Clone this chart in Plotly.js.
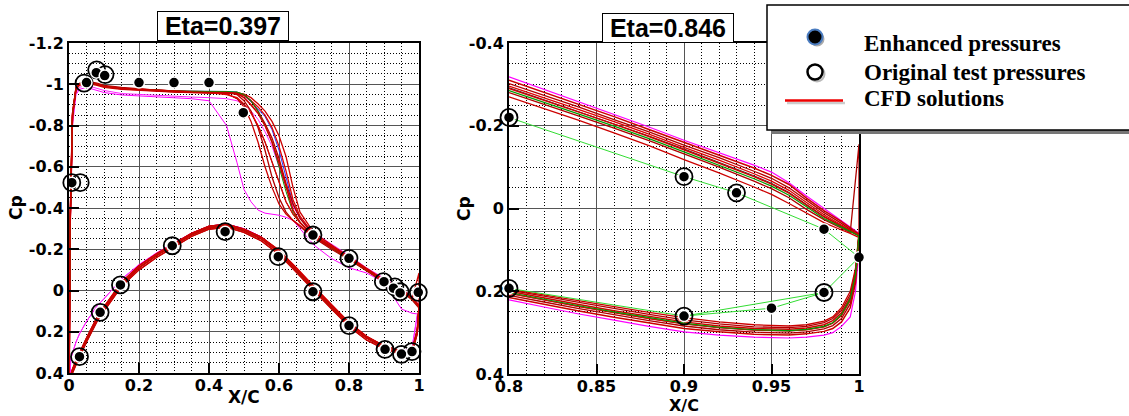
<!DOCTYPE html>
<html><head><meta charset="utf-8">
<script src="https://cdn.plot.ly/plotly-3.0.1.min.js"></script>
<style>html,body{margin:0;padding:0;background:#fff}#chart{width:1129px;height:416px}</style>
</head><body><div id="chart"></div>
<script>
// ---------- Eta = 0.397 (left) ----------
const xU = [0,0.003,0.01,0.02,0.03,0.05,0.08,0.1,0.15,0.2,0.25,0.3,0.35,0.4,0.45,0.48,0.5,0.52,0.54,0.56,0.58,0.6,0.62,0.64,0.66,0.7,0.75,0.8,0.85,0.9,0.95,0.98,1.0];
const uR1 = [0.6,-0.3,-0.85,-0.98,-1.0,-1.01,-1.0,-0.99,-0.98,-0.975,-0.97,-0.965,-0.962,-0.96,-0.96,-0.955,-0.935,-0.9,-0.86,-0.8,-0.72,-0.62,-0.5,-0.39,-0.33,-0.26,-0.21,-0.155,-0.1,-0.045,0.0,0.04,0.08];
const uR2 = [0.6,-0.32,-0.86,-0.985,-1.005,-1.015,-1.005,-0.995,-0.985,-0.978,-0.972,-0.968,-0.965,-0.963,-0.962,-0.95,-0.92,-0.87,-0.79,-0.68,-0.55,-0.45,-0.38,-0.34,-0.31,-0.255,-0.2,-0.15,-0.095,-0.04,0.005,0.045,0.085];
const uR3 = [0.6,-0.28,-0.84,-0.975,-0.995,-1.005,-0.995,-0.985,-0.975,-0.97,-0.965,-0.962,-0.96,-0.958,-0.957,-0.955,-0.945,-0.92,-0.89,-0.85,-0.79,-0.7,-0.58,-0.44,-0.36,-0.27,-0.215,-0.16,-0.105,-0.05,-0.005,0.035,0.075];
const uR4 = [0.6,-0.31,-0.86,-0.98,-1.0,-1.01,-1.0,-0.99,-0.98,-0.974,-0.969,-0.965,-0.962,-0.96,-0.955,-0.93,-0.89,-0.82,-0.72,-0.6,-0.5,-0.42,-0.37,-0.34,-0.315,-0.26,-0.205,-0.152,-0.098,-0.043,0.002,0.042,-0.085];
const uR5 = [0.6,-0.29,-0.85,-0.978,-0.998,-1.008,-0.998,-0.988,-0.978,-0.972,-0.967,-0.963,-0.961,-0.959,-0.958,-0.96,-0.95,-0.92,-0.87,-0.81,-0.74,-0.64,-0.52,-0.42,-0.35,-0.265,-0.212,-0.158,-0.102,-0.048,-0.003,0.038,0.078];
const uR6 = [0.6,-0.3,-0.85,-0.98,-1.0,-1.01,-1.0,-0.99,-0.98,-0.975,-0.97,-0.966,-0.963,-0.961,-0.96,-0.958,-0.952,-0.935,-0.905,-0.87,-0.82,-0.75,-0.65,-0.5,-0.38,-0.28,-0.22,-0.163,-0.108,-0.052,-0.008,0.032,0.072];
const uR7 = [0.6,-0.3,-0.85,-0.98,-1.0,-1.01,-1.0,-0.99,-0.98,-0.975,-0.97,-0.966,-0.963,-0.96,-0.95,-0.935,-0.905,-0.86,-0.8,-0.72,-0.62,-0.52,-0.43,-0.37,-0.33,-0.265,-0.21,-0.155,-0.1,-0.045,0.0,0.04,0.08];
const uG  = [0.6,-0.3,-0.85,-0.98,-1.0,-1.01,-1.0,-0.99,-0.98,-0.975,-0.97,-0.967,-0.966,-0.966,-0.965,-0.962,-0.95,-0.92,-0.87,-0.8,-0.72,-0.6,-0.48,-0.38,-0.33,-0.262,-0.208,-0.153,-0.098,-0.043,0.002,0.042,0.082];
const uB  = [0.6,-0.3,-0.85,-0.98,-1.0,-1.01,-1.0,-0.99,-0.98,-0.975,-0.97,-0.967,-0.966,-0.966,-0.965,-0.962,-0.945,-0.915,-0.88,-0.843,-0.78,-0.68,-0.55,-0.42,-0.35,-0.268,-0.213,-0.158,-0.103,-0.048,-0.003,0.037,0.077];
const uK  = [0.6,-0.3,-0.85,-0.98,-1.0,-1.01,-1.0,-0.99,-0.98,-0.975,-0.97,-0.966,-0.963,-0.96,-0.955,-0.93,-0.9,-0.86,-0.8,-0.72,-0.62,-0.52,-0.43,-0.37,-0.33,-0.262,-0.208,-0.154,-0.1,-0.045,0.0,0.04,0.08];
const uM1 = [0.6,-0.25,-0.8,-0.95,-0.975,-0.985,-0.97,-0.96,-0.948,-0.943,-0.94,-0.935,-0.93,-0.92,-0.8,-0.62,-0.49,-0.43,-0.39,-0.375,-0.37,-0.365,-0.355,-0.34,-0.3,-0.22,-0.155,-0.11,-0.085,-0.04,0.09,0.11,0.115];
const uM2 = [0.6,-0.27,-0.82,-0.96,-0.985,-0.995,-0.98,-0.97,-0.955,-0.95,-0.945,-0.94,-0.938,-0.935,-0.93,-0.92,-0.9,-0.87,-0.83,-0.77,-0.7,-0.6,-0.5,-0.41,-0.35,-0.28,-0.225,-0.17,-0.11,-0.06,-0.01,0.03,0.07];

const xL = [0,0.005,0.01,0.02,0.03,0.05,0.08,0.1,0.15,0.2,0.25,0.3,0.35,0.4,0.45,0.5,0.55,0.6,0.65,0.7,0.75,0.8,0.85,0.9,0.95,0.98,0.995,1.0];
const lR1 = [0.6,0.42,0.39,0.35,0.31,0.24,0.14,0.09,-0.03,-0.11,-0.17,-0.22,-0.27,-0.305,-0.315,-0.29,-0.25,-0.185,-0.1,-0.01,0.08,0.165,0.23,0.275,0.3,0.295,0.2,0.08];
const lR2 = [0.6,0.43,0.4,0.36,0.32,0.25,0.15,0.1,-0.02,-0.1,-0.16,-0.212,-0.262,-0.297,-0.307,-0.282,-0.24,-0.175,-0.09,0.0,0.09,0.175,0.24,0.283,0.307,0.302,0.21,0.085];
const lR3 = [0.6,0.41,0.38,0.34,0.3,0.23,0.13,0.08,-0.04,-0.12,-0.178,-0.228,-0.277,-0.312,-0.322,-0.298,-0.258,-0.195,-0.11,-0.02,0.07,0.155,0.222,0.268,0.294,0.29,0.19,0.075];
const lM  = [0.6,0.33,0.3,0.25,0.21,0.15,0.075,0.04,-0.055,-0.125,-0.182,-0.232,-0.278,-0.312,-0.322,-0.3,-0.26,-0.19,-0.105,-0.015,0.075,0.16,0.225,0.27,0.295,0.28,0.12,0.115];

const encUxL = [0.008,0.05,0.078,0.102,0.2,0.3,0.4,0.498,0.697,0.8,0.9,0.927,0.946,0.998];
const encUyL = [-0.523,-1.008,-1.056,-1.042,-1.008,-1.008,-1.008,-0.862,-0.269,-0.156,-0.043,-0.011,0.012,0.009];
const encLxL = [0.03,0.089,0.147,0.295,0.446,0.598,0.697,0.8,0.903,0.95,0.98];
const encLyL = [0.321,0.106,-0.027,-0.217,-0.285,-0.164,0.006,0.17,0.285,0.308,0.296];
const orgUxL = [0.008,0.032,0.043,0.079,0.103,0.697,0.8,0.898,0.931,0.946,0.998];
const orgUyL = [-0.523,-0.523,-1.005,-1.07,-1.047,-0.269,-0.156,-0.043,-0.018,0.006,0.009];
const orgLxL = [0.03,0.089,0.147,0.295,0.446,0.598,0.697,0.8,0.903,0.95,0.98];
const orgLyL = [0.321,0.106,-0.027,-0.217,-0.285,-0.164,0.006,0.17,0.285,0.31,0.296];

// ---------- Eta = 0.846 (right) ----------
const xRU = [0.8,0.82,0.84,0.86,0.88,0.9,0.92,0.94,0.95,0.96,0.97,0.98,0.99,0.995,1.0];
const rMu  = [-0.318,-0.288,-0.258,-0.228,-0.197,-0.165,-0.135,-0.105,-0.088,-0.062,-0.03,0.0,0.028,0.045,0.06];
const rR1u = [-0.31,-0.281,-0.252,-0.222,-0.191,-0.16,-0.13,-0.098,-0.08,-0.058,-0.025,0.005,0.032,0.048,0.062];
const rR2u = [-0.302,-0.274,-0.245,-0.215,-0.185,-0.153,-0.123,-0.09,-0.073,-0.05,-0.02,0.01,0.036,0.05,0.064];
const rR3u = [-0.296,-0.268,-0.239,-0.21,-0.18,-0.148,-0.117,-0.084,-0.066,-0.044,-0.014,0.015,0.04,0.053,0.065];
const rR4u = [-0.29,-0.262,-0.233,-0.204,-0.174,-0.142,-0.11,-0.077,-0.059,-0.037,-0.008,0.02,0.043,0.055,0.066];
const rR5u = [-0.28,-0.252,-0.223,-0.194,-0.164,-0.132,-0.1,-0.066,-0.048,-0.026,0.002,0.027,0.047,0.058,-0.155];
const rR6u = [-0.27,-0.242,-0.213,-0.183,-0.152,-0.118,-0.086,-0.052,-0.034,-0.012,0.012,0.034,0.052,0.06,0.07];
const rGu  = [-0.285,-0.257,-0.228,-0.199,-0.169,-0.137,-0.105,-0.072,-0.054,-0.032,-0.004,0.024,0.045,0.056,0.066];
const rKu  = [-0.292,-0.263,-0.234,-0.205,-0.175,-0.144,-0.112,-0.079,-0.061,-0.039,-0.01,0.019,0.042,0.054,0.065];

const xRL = [0.8,0.82,0.84,0.86,0.88,0.9,0.92,0.94,0.96,0.97,0.98,0.985,0.99,0.995,0.998,1.0];
const rMl  = [0.221,0.238,0.255,0.27,0.285,0.298,0.306,0.311,0.313,0.311,0.306,0.3,0.285,0.262,0.2,0.1];
const rR1l = [0.215,0.232,0.248,0.263,0.277,0.29,0.298,0.304,0.306,0.303,0.297,0.29,0.274,0.24,0.18,0.065];
const rR2l = [0.21,0.226,0.242,0.257,0.271,0.284,0.293,0.299,0.301,0.298,0.291,0.283,0.266,0.23,0.17,0.065];
const rR3l = [0.205,0.221,0.237,0.252,0.266,0.279,0.288,0.294,0.296,0.293,0.286,0.277,0.259,0.222,0.165,0.064];
const rR4l = [0.2,0.216,0.232,0.247,0.261,0.274,0.284,0.29,0.292,0.289,0.281,0.271,0.252,0.215,0.158,0.063];
const rR5l = [0.197,0.212,0.227,0.242,0.256,0.269,0.279,0.286,0.288,0.285,0.276,0.266,0.246,0.208,0.15,0.062];
const rR6l = [0.195,0.209,0.223,0.237,0.251,0.264,0.274,0.281,0.284,0.281,0.272,0.262,0.24,0.2,0.145,0.06];
const rGl  = [0.203,0.219,0.235,0.25,0.264,0.277,0.287,0.293,0.295,0.292,0.285,0.276,0.256,0.218,0.16,0.064];

const encUxR = [0.8,0.9,0.93,0.98,1.0];
const encUyR = [-0.22,-0.077,-0.038,0.05,0.118];
const encLxR = [0.8,0.9,0.95,0.98];
const encLyR = [0.193,0.26,0.241,0.203];
const orgUxR = [0.8,0.9,0.93];
const orgUyR = [-0.22,-0.077,-0.038];
const orgLxR = [0.8,0.9,0.98];
const orgLyR = [0.193,0.26,0.203];
const orgLinkX = [0.9,0.98];
const orgLinkY = [0.26,0.203];

// ticks
const tvL = [-1.2,-1,-0.8,-0.6,-0.4,-0.2,0,0.2,0.4];
const ttL = ['-1.2','-1','-0.8','-0.6','-0.4','-0.2','0','0.2','0.4'];
const xvL = [0,0.2,0.4,0.6,0.8,1];
const xtL = ['0','0.2','0.4','0.6','0.8','1'];
const tvR = [-0.4,-0.2,0,0.2,0.4];
const ttR = ['-0.4','-0.2','0','0.2','0.4'];
const xvR = [0.8,0.85,0.9,0.95,1];
const xtR = ['0.8','0.85','0.9','0.95','1'];

// ---------- build ----------
const W = 1129, H = 416;
const traces = [];
function loop(xu, yu, xl, yl) {
  return {x: xu.concat(xl.slice().reverse()), y: yu.concat(yl.slice().reverse())};
}
function cfd(xu, yu, xl, yl, color, w, ax) {
  const d = loop(xu, yu, xl, yl);
  traces.push({type:'scatter', mode:'lines', x:d.x, y:d.y, xaxis:ax[0], yaxis:ax[1],
    line:{color:color, width:w}, showlegend:false, hoverinfo:'skip'});
}
const A1 = ['x','y'], A2 = ['x2','y2'];
const RED = '#cc0000', RED2 = '#e00000', DRED = '#b00000';

cfd(xU,uM1,xL,lM,'#ff00ff',1,A1);
cfd(xU,uM2,xL,lM,'#ff22ff',1,A1);
cfd(xU,uB,xL,lR1,'#2233ff',1,A1);
cfd(xU,uK,xL,lR3,'#333333',1,A1);
cfd(xU,uR2,xL,lR2,DRED,1.3,A1);
cfd(xU,uR3,xL,lR3,RED2,1.3,A1);
cfd(xU,uR4,xL,lR2,RED,1.3,A1);
cfd(xU,uR5,xL,lR1,DRED,1.3,A1);
cfd(xU,uR6,xL,lR3,RED,1.3,A1);
cfd(xU,uR7,xL,lR1,RED2,1.3,A1);
cfd(xU,uG,xL,lR1,'#009900',1,A1);
cfd(xU,uR1,xL,lR1,RED,1.6,A1);

cfd(xRU,rMu,xRL,rMl,'#ff00ff',1.2,A2);
cfd(xRU,rKu,xRL,rR3l,'#333333',1,A2);
cfd(xRU,rR1u,xRL,rR1l,RED,1.5,A2);
cfd(xRU,rR2u,xRL,rR2l,DRED,1.3,A2);
cfd(xRU,rR3u,xRL,rR3l,RED2,1.3,A2);
cfd(xRU,rR4u,xRL,rR4l,RED,1.5,A2);
cfd(xRU,rR5u,xRL,rR5l,DRED,1.3,A2);
cfd(xRU,rR6u,xRL,rR6l,RED,1.3,A2);
cfd(xRU,rGu,xRL,rGl,'#009900',1.2,A2);
// interpolation of enhanced / test pressures
(function(){
  const d = loop(encUxR, encUyR, encLxR, encLyR);
  traces.push({type:'scatter',mode:'lines',x:d.x,y:d.y,xaxis:'x2',yaxis:'y2',line:{color:'#33dd33',width:1},showlegend:false,hoverinfo:'skip'});
  traces.push({type:'scatter',mode:'lines',x:orgLinkX,y:orgLinkY,xaxis:'x2',yaxis:'y2',line:{color:'#33dd33',width:1},showlegend:false,hoverinfo:'skip'});
})();

function marks(x, y, ax, kind) {
  if (kind === 'org') {
    traces.push({type:'scatter',mode:'markers',x:x,y:y,xaxis:ax[0],yaxis:ax[1],cliponaxis:false,
      marker:{symbol:'circle-open',size:17,color:'#000',line:{color:'#000',width:1.8}},showlegend:false,hoverinfo:'skip'});
  } else {
    traces.push({type:'scatter',mode:'markers',x:x,y:y,xaxis:ax[0],yaxis:ax[1],cliponaxis:false,
      marker:{symbol:'circle',size:11,color:'#000',line:{color:'#fff',width:1.5}},showlegend:false,hoverinfo:'skip'});
  }
}
marks(orgUxL,orgUyL,A1,'org'); marks(orgLxL,orgLyL,A1,'org');
marks(encUxL,encUyL,A1,'enh'); marks(encLxL,encLyL,A1,'enh');
marks(orgUxR,orgUyR,A2,'org'); marks(orgLxR,orgLyR,A2,'org');
marks(encUxR,encUyR,A2,'enh'); marks(encLxR,encLyR,A2,'enh');

const tickFont = {family:'DejaVu Sans', size:16, color:'#000', weight:700};
function axis(extra) {
  return Object.assign({
    showline:true, linecolor:'#000', linewidth:2, mirror:true,
    ticks:'inside', ticklen:10, tickwidth:2, tickcolor:'#000',
    tickmode:'array', tickfont:tickFont, zeroline:false, automargin:false,
    showgrid:true, gridcolor:'#555', gridwidth:1, fixedrange:true
  }, extra);
}
const minorGrid = (d) => ({dtick:d, tick0:0, showgrid:true, gridcolor:'#000', gridwidth:1, griddash:'1px,2px', ticks:''});

const px = v => v / W, py = v => 1 - v / H;
const axFont = {family:'DejaVu Sans', size:17, color:'#000', weight:700};
const axFont2 = {family:'DejaVu Sans', size:16, color:'#000', weight:700};
const titleFont = {family:'Liberation Sans', size:25, color:'#000', weight:700};
const legFont = {family:'Liberation Serif', size:23, color:'#000', weight:700};

const layout = {
  width:W, height:H, margin:{l:0,r:0,t:0,b:0},
  paper_bgcolor:'#fff', plot_bgcolor:'#fff', showlegend:false,
  xaxis: axis({domain:[px(69),px(419)], range:[0,1], tickvals:xvL, ticktext:xtL, anchor:'y', minor:minorGrid(0.05), ticklabelstandoff:-3}),
  yaxis: axis({domain:[py(373),py(43)], range:[0.4,-1.2], tickvals:tvL, ticktext:ttL, anchor:'x', minor:minorGrid(0.05)}),
  xaxis2: axis({domain:[px(509),px(859)], range:[0.8,1], tickvals:xvR, ticktext:xtR, anchor:'y2', minor:minorGrid(0.01), ticklabelstandoff:-3}),
  yaxis2: axis({domain:[py(374),py(43)], range:[0.4,-0.4], tickvals:tvR, ticktext:ttR, anchor:'x2', minor:minorGrid(0.05)}),
  annotations: [
    {xref:'paper',yref:'paper',x:px(223),y:py(26),text:'\u00a0Eta=0.397\u00a0',showarrow:false,font:titleFont,
      bgcolor:'#fff',bordercolor:'#000',borderwidth:1,borderpad:0,xanchor:'center',yanchor:'middle'},
    {xref:'paper',yref:'paper',x:px(668),y:py(28),text:'\u00a0Eta=0.846\u00a0',showarrow:false,font:titleFont,
      bgcolor:'#fff',bordercolor:'#000',borderwidth:1,borderpad:0,xanchor:'center',yanchor:'middle'},
    {xref:'paper',yref:'paper',x:px(244),y:py(397),text:'X/C',showarrow:false,font:axFont,xanchor:'center',yanchor:'middle'},
    {xref:'paper',yref:'paper',x:px(684),y:py(416),text:'X/C',showarrow:false,font:axFont2,xanchor:'center',yanchor:'bottom',borderpad:0},
    {xref:'paper',yref:'paper',x:px(16),y:py(208),text:'Cp',textangle:-90,showarrow:false,font:axFont,xanchor:'center',yanchor:'middle'},
    {xref:'paper',yref:'paper',x:px(464),y:py(208),text:'Cp',textangle:-90,showarrow:false,font:axFont,xanchor:'center',yanchor:'middle'},
    {xref:'paper',yref:'paper',x:px(862),y:py(44),text:'Enhanced pressures',showarrow:false,font:legFont,xanchor:'left',yanchor:'middle'},
    {xref:'paper',yref:'paper',x:px(862),y:py(72),text:'Original test pressures',showarrow:false,font:legFont,xanchor:'left',yanchor:'middle'},
    {xref:'paper',yref:'paper',x:px(862),y:py(99),text:'CFD solutions',showarrow:false,font:legFont,xanchor:'left',yanchor:'middle'}
  ],
  shapes: [
    {type:'rect',xref:'paper',yref:'paper',x0:px(771),x1:px(1140),y0:py(134),y1:py(9),fillcolor:'#777',line:{width:0},layer:'above'},
    {type:'rect',xref:'paper',yref:'paper',x0:px(767),x1:px(1135),y0:py(130),y1:py(5),fillcolor:'#fff',line:{color:'#000',width:1.5},layer:'above'},
    {type:'circle',xref:'paper',yref:'paper',xsizemode:'pixel',ysizemode:'pixel',xanchor:px(817),yanchor:py(39),x0:-7.5,x1:7.5,y0:-7.5,y1:7.5,fillcolor:'#aaa',line:{width:0},layer:'above'},
    {type:'circle',xref:'paper',yref:'paper',xsizemode:'pixel',ysizemode:'pixel',xanchor:px(815),yanchor:py(37),x0:-7.5,x1:7.5,y0:-7.5,y1:7.5,fillcolor:'#000',line:{color:'#4a7cc0',width:2},layer:'above'},
    {type:'circle',xref:'paper',yref:'paper',xsizemode:'pixel',ysizemode:'pixel',xanchor:px(817),yanchor:py(74),x0:-7.5,x1:7.5,y0:-7.5,y1:7.5,fillcolor:'rgba(0,0,0,0)',line:{color:'#bbb',width:2},layer:'above'},
    {type:'circle',xref:'paper',yref:'paper',xsizemode:'pixel',ysizemode:'pixel',xanchor:px(815),yanchor:py(72),x0:-7.5,x1:7.5,y0:-7.5,y1:7.5,fillcolor:'#fff',line:{color:'#000',width:2.5},layer:'above'},
    {type:'line',xref:'paper',yref:'paper',x0:px(787),x1:px(845),y0:py(103),y1:py(103),line:{color:'#ccc',width:2.5},layer:'above'},
    {type:'line',xref:'paper',yref:'paper',x0:px(785),x1:px(843),y0:py(100.5),y1:py(100.5),line:{color:'#ee0000',width:2.5},layer:'above'}
  ]
};
Plotly.newPlot('chart', traces, layout, {displayModeBar:false, staticPlot:true});
</script>
</body></html>
